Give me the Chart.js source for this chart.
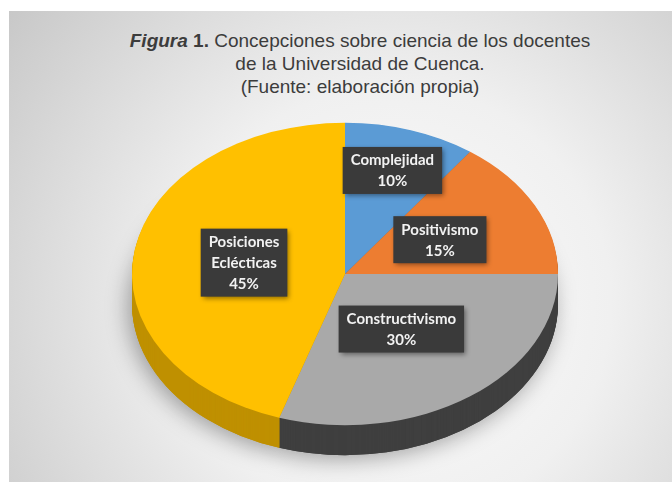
<!DOCTYPE html>
<html>
<head>
<meta charset="utf-8">
<script src="https://cdn.jsdelivr.net/npm/chart.js@4.4.1/dist/chart.umd.min.js"></script>
<style>
  html, body { margin: 0; padding: 0; background: #fff; }
  #wrap { position: relative; width: 672px; height: 482px; overflow: hidden; }
  #frame {
    position: absolute; left: 9px; top: 11px; right: 0; bottom: 0;
    background: radial-gradient(circle at 58% 62%, #fcfcfc 0%, #f0f0f0 45%, #c8c8c8 100%);
  }
  #title {
    position: absolute; left: 0; width: 720px; top: 29px; text-align: center;
    font-family: "Liberation Sans", Arial, sans-serif; font-size: 19px; line-height: 23px;
    color: #3c3c3c;
  }
  #title b i { font-style: italic; }
  canvas { position: absolute; left: 0; top: 0; }
</style>
</head>
<body>
<div id="wrap">
  <div id="frame"></div>
  <div id="title"><b><i>Figura</i> 1.</b> Concepciones sobre ciencia de los docentes<br>de la Universidad de Cuenca.<br>(Fuente: elaboración propia)</div>
  <canvas id="myChart" width="672" height="482"></canvas>
</div>
<script>
const categories = ["Complejidad", "Positivismo", "Constructivismo", "Posiciones Eclécticas"];
const labelLines = [["Complejidad"], ["Positivismo"], ["Constructivismo"], ["Posiciones", "Eclécticas"]];
const values = [10, 15, 30, 45];

const topColors = ["#5b9bd5", "#ed7d31", "#a9a9a9", "#ffc000"];
const sideColors = ["#41719c", "#ae5a21", "#3f3f3f", "#bf9000"];

// 3D look: squash the pie and stack darker copies underneath
const view = { squash: 0.71, shiftY: 11, depth: 30 };
const labelRadius = [0.72, 0.5, 0.45, 0.48];

function applyView(ctx, cx, cy, dy) {
  ctx.translate(0, dy + view.shiftY);
  ctx.translate(cx, cy);
  ctx.scale(1, view.squash);
  ctx.translate(-cx, -cy);
}

function slicePath(ctx, a) {
  ctx.beginPath();
  ctx.moveTo(a.x, a.y);
  ctx.arc(a.x, a.y, a.outerRadius, a.startAngle, a.endAngle);
  ctx.closePath();
}

const pie3d = {
  id: "pie3d",
  beforeDatasetsDraw(chart) {
    const ctx = chart.ctx;
    const arcs = chart.getDatasetMeta(0).data;
    const cx = arcs[0].x, cy = arcs[0].y;

    // soft shadow under the pie
    ctx.save();
    applyView(ctx, cx, cy, view.depth);
    ctx.shadowColor = "rgba(0,0,0,0.35)";
    ctx.shadowBlur = 22;
    ctx.shadowOffsetX = -4;
    ctx.shadowOffsetY = 4;
    arcs.forEach((a, i) => {
      ctx.fillStyle = sideColors[i];
      slicePath(ctx, a);
      ctx.fill();
    });
    ctx.restore();

    for (let d = view.depth; d >= 1; d--) {
      ctx.save();
      applyView(ctx, cx, cy, d);
      arcs.forEach((a, i) => {
        ctx.fillStyle = sideColors[i];
        slicePath(ctx, a);
        ctx.fill();
      });
      ctx.restore();
    }

    ctx.save();
    applyView(ctx, cx, cy, 0);
  },
  afterDatasetsDraw(chart) {
    const ctx = chart.ctx;
    ctx.restore();

    const arcs = chart.getDatasetMeta(0).data;
    ctx.save();
    ctx.font = "bold 15px Lato, 'Open Sans', sans-serif";
    ctx.textAlign = "center";
    ctx.textBaseline = "middle";
    const lineH = 21;
    arcs.forEach((a, i) => {
      const mid = (a.startAngle + a.endAngle) / 2;
      const r = a.outerRadius * labelRadius[i];
      const x = a.x + Math.cos(mid) * r;
      const y = a.y + view.shiftY + Math.sin(mid) * r * view.squash;
      const lines = labelLines[i].concat([values[i] + "%"]);
      const w = Math.max(...lines.map(t => ctx.measureText(t).width)) + 16;
      const h = lines.length * lineH + 5;

      ctx.save();
      ctx.shadowColor = "rgba(0,0,0,0.45)";
      ctx.shadowBlur = 5;
      ctx.shadowOffsetX = 2;
      ctx.shadowOffsetY = 2;
      ctx.fillStyle = "#3a3a3a";
      ctx.fillRect(x - w / 2, y - h / 2, w, h);
      ctx.restore();

      ctx.fillStyle = "#f2f2f2";
      lines.forEach((t, k) => {
        ctx.fillText(t, x, y - h / 2 + 3 + lineH * (k + 0.5));
      });
    });
    ctx.restore();
  }
};

new Chart(document.getElementById("myChart").getContext("2d"), {
  type: "pie",
  data: {
    labels: categories,
    datasets: [{
      data: values,
      backgroundColor: topColors,
      borderWidth: 0,
    }],
  },
  options: {
    responsive: false,
    animation: false,
    layout: { padding: { left: 132, right: 114, top: 50, bottom: 6 } },
    plugins: {
      legend: { display: false },
      tooltip: { enabled: false },
    },
  },
  plugins: [pie3d],
});
</script>
</body>
</html>
